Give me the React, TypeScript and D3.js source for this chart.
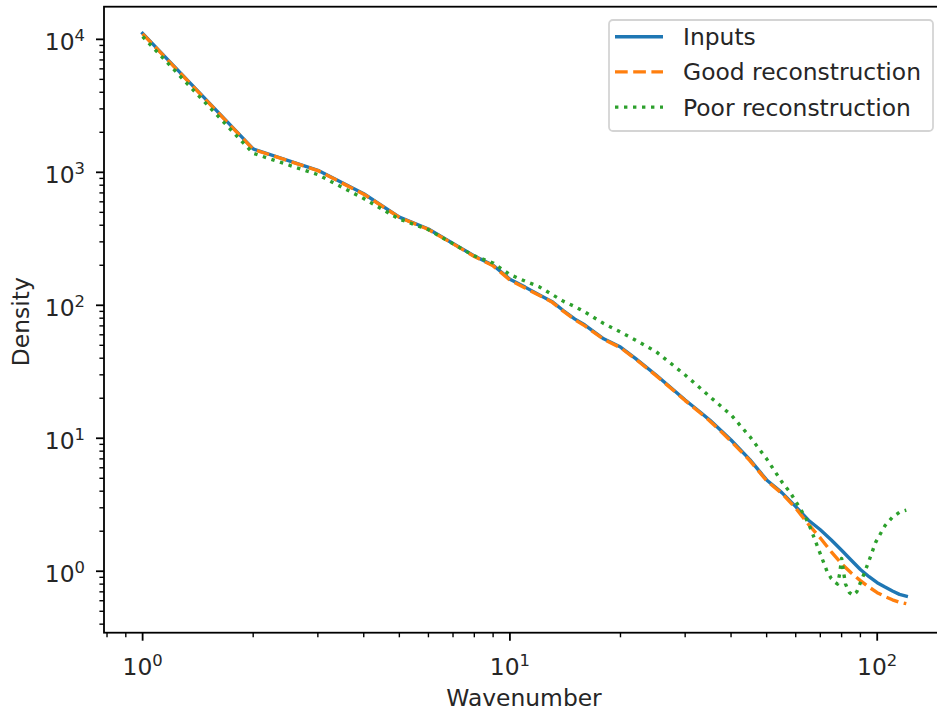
import * as d3 from 'd3'

const W = 937
const H = 711
const PLOT = { left: 104, right: 944, top: 6.7, bottom: 632.7 }
const X_DOMAIN: [number, number] = [0.785, 152]
const Y_DOMAIN: [number, number] = [0.345, 17600]

// Wavenumbers sampled for inputs / good reconstruction
const wavenumbers = [1, 2, 3, 4, 5, 6, 7, 8, 9, 10, 11, 12, 13, 14, 15, 16, 18, 20, 22, 25, 28, 30, 33, 35, 38, 40, 45, 50, 55, 60, 65, 70, 75, 80, 85, 90, 95, 100, 105, 110, 115, 120]
const inputs = [11100, 1500, 1035, 690, 460, 375, 292, 235, 200, 157, 137, 120, 107, 91, 79, 71, 56, 48.5, 39.7, 29.9, 22.9, 19.4, 15.7, 13.7, 11.1, 9.7, 6.9, 4.86, 3.9, 3.06, 2.42, 2.05, 1.72, 1.44, 1.21, 1.03, 0.91, 0.82, 0.76, 0.71, 0.67, 0.65]
const good = [11000, 1490, 1030, 685, 458, 372, 290, 233, 198, 155, 135, 119, 106, 90, 78, 70, 55.5, 48, 39.3, 29.6, 22.7, 19.2, 15.5, 13.5, 10.9, 9.5, 6.8, 4.8, 3.85, 2.98, 2.25, 1.78, 1.4, 1.14, 0.97, 0.85, 0.76, 0.69, 0.645, 0.61, 0.585, 0.57]

// Poor reconstruction has its own sample points (wiggle near k=80)
const poorWavenumbers = [1, 2, 3, 4, 5, 6, 7, 8, 9, 10, 11, 12, 13, 14, 15, 16, 18, 20, 22, 25, 28, 30, 33, 35, 38, 40, 45, 50, 55, 58, 60, 62, 65, 67, 70, 73, 75, 77, 78, 79, 80, 81, 82, 84, 86, 88, 90, 92, 95, 99, 105, 110, 115, 120]
const poor = [10500, 1390, 960, 635, 445, 370, 290, 235, 208, 170, 152, 138, 121, 107, 98, 89, 73, 63, 54.7, 44.8, 34.9, 29.9, 23.8, 20.6, 16.9, 15, 10.3, 7, 4.7, 3.9, 3.35, 2.9, 2.3, 1.85, 1.35, 1.0, 0.88, 0.82, 0.8, 0.95, 1.25, 0.98, 0.8, 0.69, 0.66, 0.7, 0.82, 0.95, 1.2, 1.65, 2.2, 2.55, 2.78, 2.88]

const seriesNames = ['Inputs', 'Good reconstruction', 'Poor reconstruction']
const seriesColors = ['#1f77b4', '#ff7f0e', '#2ca02c']
const seriesDash = [null, '12.7 5.5', '3.4 5.6']

const FONT = 'DejaVu Sans, sans-serif'
const FS = 23.4
const LW = 3.4

export default function App() {
  const x = d3.scaleLog().domain(X_DOMAIN).range([PLOT.left, PLOT.right])
  const y = d3.scaleLog().domain(Y_DOMAIN).range([PLOT.bottom, PLOT.top])

  const series = [
    { ks: wavenumbers, vals: inputs },
    { ks: wavenumbers, vals: good },
    { ks: poorWavenumbers, vals: poor },
  ]

  const line = d3.line<[number, number]>()
    .x(d => x(d[0]))
    .y(d => y(d[1]))

  const isMajor = (v: number) => Math.abs(Math.log10(v) - Math.round(Math.log10(v))) < 1e-9
  const xTicks = x.ticks().filter(v => v >= X_DOMAIN[0] && v <= X_DOMAIN[1])
  const yTicks = y.ticks().filter(v => v >= Y_DOMAIN[0] && v <= Y_DOMAIN[1])

  // legend geometry
  const lg = { x: 609, y: 20, w: 324, h: 111 }
  const rowY = [36.7, 71.9, 107.1]

  return (
    <div style={{ position: 'absolute', left: 0, top: 0 }}>
      <svg width={W} height={H} style={{ display: 'block', background: '#fff' }} fontFamily={FONT}>
        <defs>
          <clipPath id="plot-clip">
            <rect x={PLOT.left} y={PLOT.top} width={PLOT.right - PLOT.left} height={PLOT.bottom - PLOT.top} />
          </clipPath>
        </defs>

        {/* data lines */}
        <g clipPath="url(#plot-clip)">
          {series.map((s, i) => (
            <path
              key={i}
              d={line(s.ks.map((k, j) => [k, s.vals[j]] as [number, number])) || ''}
              fill="none"
              stroke={seriesColors[i]}
              strokeWidth={LW}
              strokeDasharray={seriesDash[i] || undefined}
              strokeLinecap={i === 0 ? 'square' : 'butt'}
              strokeLinejoin="round"
            />
          ))}
        </g>

        {/* x ticks */}
        {xTicks.map(v => {
          const major = isMajor(v)
          const tx = x(v)
          return (
            <g key={'x' + v}>
              <line x1={tx} x2={tx} y1={PLOT.bottom} y2={PLOT.bottom + (major ? 8 : 4.6)} stroke="#000" strokeWidth={major ? 1.8 : 1.4} />
              {major && (
                <text x={tx} y={675} textAnchor="middle" fontSize={FS} fill="#262626">
                  10<tspan fontSize={16.4} dy={-9}>{Math.round(Math.log10(v))}</tspan>
                </text>
              )}
            </g>
          )
        })}

        {/* y ticks */}
        {yTicks.map(v => {
          const major = isMajor(v)
          const ty = y(v)
          return (
            <g key={'y' + v}>
              <line x1={PLOT.left} x2={PLOT.left - (major ? 8 : 4.6)} y1={ty} y2={ty} stroke="#000" strokeWidth={major ? 1.8 : 1.4} />
              {major && (
                <text x={85} y={ty + 10.5} textAnchor="end" fontSize={FS} fill="#262626">
                  10<tspan fontSize={16.4} dy={-9}>{Math.round(Math.log10(v))}</tspan>
                </text>
              )}
            </g>
          )
        })}

        {/* frame */}
        <rect
          x={PLOT.left}
          y={PLOT.top}
          width={PLOT.right - PLOT.left}
          height={PLOT.bottom - PLOT.top}
          fill="none"
          stroke="#000"
          strokeWidth={1.8}
        />

        {/* axis labels */}
        <text x={(PLOT.left + PLOT.right) / 2} y={706} textAnchor="middle" fontSize={FS} fill="#262626">
          Wavenumber
        </text>
        <text
          transform={`translate(28.5, ${(PLOT.top + PLOT.bottom) / 2 + 2}) rotate(-90)`}
          textAnchor="middle"
          fontSize={FS}
          fill="#262626"
        >
          Density
        </text>

        {/* legend */}
        <rect x={lg.x} y={lg.y} width={lg.w} height={lg.h} rx={4} fill="rgba(255,255,255,0.8)" stroke="#d4d4d4" strokeWidth={1.8} />
        {seriesNames.map((name, i) => (
          <g key={name}>
            <line
              x1={615}
              x2={663}
              y1={rowY[i]}
              y2={rowY[i]}
              stroke={seriesColors[i]}
              strokeWidth={LW}
              strokeDasharray={seriesDash[i] || undefined}
            />
            <text x={683} y={rowY[i] + 8.4} fontSize={FS} fill="#262626">{name}</text>
          </g>
        ))}
      </svg>
    </div>
  )
}
